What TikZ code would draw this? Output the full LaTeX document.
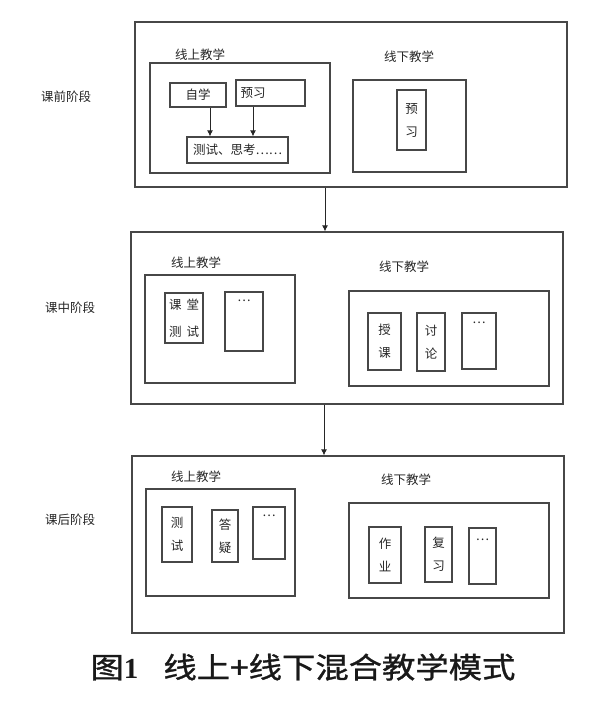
\documentclass[tikz,border=0pt]{standalone}
\usepackage{fontspec}
\usetikzlibrary{arrows.meta}
\newfontfamily\cjk{Noto Sans CJK SC}
\newfontfamily\capfont[FakeStretch=1.15,FakeBold=1.1]{Noto Sans CJK SC}
\newfontfamily\numfont{Liberation Serif}
\begin{document}
\begin{tikzpicture}[x=1pt,y=-1pt,
  bx/.style={draw=black!72, line width=1.2pt, inner sep=0pt},
  wh/.style 2 args={minimum width=#1pt, minimum height=#2pt},
  lab/.style={font=\cjk\fontsize{12.5}{15}\selectfont, text=black!85, inner sep=0pt},
  vt/.style={font=\cjk\fontsize{12.5}{23}\selectfont, text=black!85, align=center},
  dots/.style={label={[lab, anchor=north, yshift=-#1pt]north:…}},
  arr/.style={draw=black!85, line width=1pt, -{Latex[length=6pt,width=6pt]}}]
\useasboundingbox (0,0) rectangle (600,706);

% ---------- stage 1 ----------
\node[bx, wh={432}{165}] (S1) at (351,104.5) {};
\node[lab] (s1t) at (66,97) {课前阶段};
\node[lab] (s1on) at (200,55) {线上教学};
\node[lab] (s1off) at (409,57) {线下教学};
\node[bx, wh={180}{110}] (on1) at (240,118) {};
\node[bx, wh={56}{24}, lab] (zx) at (198,95) {自学};
\node[bx, wh={69}{26}, lab, text width=60pt, align=left] (yx) at (270.5,93) {预习};
\node[bx, wh={101}{26}, lab] (cs) at (237.5,150) {测试、思考……};
\node[bx, wh={113}{92}] (off1) at (409.5,126) {};
\node[bx, wh={29}{60}, vt] (yx2) at (411.5,120) {预\\习};
\draw[arr] ([xshift=12pt]zx.south) -- ([xshift=-27.5pt]cs.north);
\draw[arr] ([xshift=-17.5pt]yx.south) -- ([xshift=15.5pt]cs.north);

% ---------- stage 2 ----------
\node[bx, wh={432}{172}] (S2) at (347,318) {};
\node[lab] (s2t) at (70,308) {课中阶段};
\node[lab] (s2on) at (196,263) {线上教学};
\node[lab] (s2off) at (404,267) {线下教学};
\node[bx, wh={150}{108}] (on2) at (220,329) {};
\node[bx, wh={38}{50}, font=\cjk\fontsize{12.5}{27}\selectfont, text=black!85, align=center] (kt) at (184,318) {课\hspace{5pt}堂\\测\hspace{5pt}试};
\node[bx, wh={38}{59}, dots=8] (d1) at (244,321.5) {};
\node[bx, wh={200}{95}] (off2) at (449,338.5) {};
\node[bx, wh={33}{57}, vt] (sk) at (384.5,341.5) {授\\课};
\node[bx, wh={28}{58}, vt] (tl) at (431,342) {讨\\论};
\node[bx, wh={34}{56}, dots=9] (d2) at (479,341) {};

% ---------- stage 3 ----------
\node[bx, wh={432}{177}] (S3) at (348,544.5) {};
\node[lab] (s3t) at (70,520) {课后阶段};
\node[lab] (s3on) at (196,477) {线上教学};
\node[lab] (s3off) at (406,480) {线下教学};
\node[bx, wh={149}{107}] (on3) at (220.5,542.5) {};
\node[bx, wh={30}{55}, vt] (cs3) at (177,534.5) {测\\试};
\node[bx, wh={26}{52}, vt] (dy) at (225,536) {答\\疑};
\node[bx, wh={32}{52}, dots=8] (d3) at (269,533) {};
\node[bx, wh={200}{95}] (off3) at (449,550.5) {};
\node[bx, wh={32}{56}, vt] (zy) at (385,555) {作\\业};
\node[bx, wh={27}{55}, vt] (fx) at (438.5,554.5) {复\\习};
\node[bx, wh={27}{56}, dots=11] (d4) at (482.5,556) {};

% ---------- connectors ----------
\draw[arr] ([xshift=-26pt]S1.south) -- ([xshift=-26pt]S1.south |- S2.north);
\draw[arr] ([xshift=-23pt]S2.south) -- ([xshift=-23pt]S2.south |- S3.north);

% ---------- caption ----------
\node[inner sep=0pt, text=black!90] (cap) at (303,667)
  {\capfont\fontsize{29}{33}\selectfont 图{\numfont\bfseries 1}\hspace{25pt}线上+线下混合教学模式};
\end{tikzpicture}
\end{document}
